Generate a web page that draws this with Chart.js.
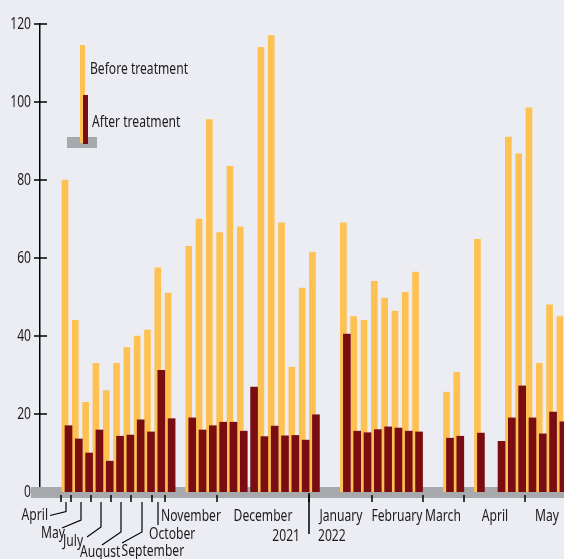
<!DOCTYPE html>
<html>
<head>
<meta charset="utf-8">
<script src="https://cdn.jsdelivr.net/npm/chart.js@4.4.1/dist/chart.umd.min.js"></script>
<style>
    html, body { margin: 0; padding: 0; background: #ecedf3; overflow: hidden; }
    #wrap { width: 564px; height: 559px; overflow: hidden; }
    canvas { display: block; }
</style>
</head>
<body>
<div id="wrap"><canvas id="treatmentChart" width="600" height="559"></canvas></div>
<script>
// one entry per sample slot, null = no sample
const beforeTreatment = [
    80, 44, 23, 33, 26, 33, 37, 40, 41.5, 57.5, 51, null,
    63, 70, 95.5, 66.5, 83.5, 68, null, 114, 117, 69, 32, 52.3, 61.5,
    null, null, 69, 45, 44, 54, 49.7, 46.4, 51.2, 56.4,
    null, null, 25.6, 30.7, null, 64.8, null, null, 91, 86.7, 98.5, 33, 48, 45
];
const afterTreatment = [
    17, 13.6, 10, 15.9, 7.9, 14.3, 14.6, 18.5, 15.4, 31.2, 18.8, null,
    19, 15.9, 17, 17.9, 17.9, 15.6, 26.9, 14.2, 16.9, 14.4, 14.5, 13.3, 19.8,
    null, null, 40.5, 15.6, 15.2, 16, 16.7, 16.4, 15.6, 15.4,
    null, null, 13.8, 14.3, null, 15.1, null, 13, 19, 27.2, 19, 14.9, 20.5, 18
];
const yTicks = [0, 20, 40, 60, 80, 100, 120];
// month boundaries, in slot units
const monthBounds = [-0.56, 0.38, 2.32, 4.26, 6.26, 8.27, 9.5, 14.57, 23.53, 29.6, 34.55, 38.53, 44.45, 48.7];
const monthNames = ['April', 'May', 'July', 'August', 'September', 'October', 'November',
    'December', 'January', 'February', 'March', 'April', 'May'];
const yearBreak = 23.53;
const yearLabels = ['2021', '2022'];
const seriesNames = ['Before treatment', 'After treatment'];

const FONT = "'Noto Sans', 'Open Sans', sans-serif";
const TEXT = '#1d1a1b';
const YELLOW = '#fec152';
const MAROON = '#7a0d12';
const GREY = '#a8a9ac';

// leader lines for the crowded months on the left (pixel layout)
const leaders = [
    { bend: 511.5, end: [50, 515.5], tx: 48, ty: 515, align: 'right' },
    { bend: 520, end: [62, 528], tx: 41, ty: 533, align: 'left' },
    { bend: 527, end: [87, 537], tx: 63, ty: 541, align: 'left' },
    { bend: 532, end: [102, 545], tx: 80, ty: 552, align: 'left' },
    { bend: 532, end: [122, 543], tx: 121.5, ty: 551, align: 'left' },
    { bend: 525, end: null, tx: 149, ty: 534, align: 'left' }
];

let squeeze = 0.8;

// condensed looking text
function label(ctx, str, x, y, align) {
    ctx.save();
    ctx.translate(x, y);
    ctx.scale(squeeze, 1);
    ctx.textAlign = align;
    ctx.fillText(str, 0, 0);
    ctx.restore();
}

const decor = {
    id: 'decor',
    beforeDatasetsDraw(chart) {
        const ctx = chart.ctx;
        const yScale = chart.scales.y;
        const y0 = yScale.getPixelForValue(0);
        ctx.save();
        ctx.font = '17px ' + FONT;
        squeeze = 98 / ctx.measureText(seriesNames[0]).width;

        ctx.fillStyle = GREY;
        ctx.fillRect(31, y0 - 5, chart.width, 11);

        ctx.strokeStyle = '#000';
        ctx.lineWidth = 1.5;
        ctx.fillStyle = TEXT;
        ctx.textBaseline = 'middle';
        yTicks.forEach(v => {
            const py = yScale.getPixelForValue(v);
            if (v !== 0) {
                ctx.beginPath();
                ctx.moveTo(34, py);
                ctx.lineTo(47, py);
                ctx.stroke();
            }
            label(ctx, String(v), 31, py, 'right');
        });
        ctx.restore();
    },
    afterDatasetsDraw(chart) {
        const ctx = chart.ctx;
        const x = chart.scales.x;
        const y0 = chart.scales.y.getPixelForValue(0);
        ctx.save();
        ctx.strokeStyle = '#000';
        ctx.lineWidth = 1.5;

        monthBounds.slice(0, -1).forEach(b => {
            const px = Math.round(x.getPixelForValue(b));
            ctx.beginPath();
            ctx.moveTo(px, y0 + 3);
            ctx.lineTo(px, y0 + 10);
            ctx.stroke();
        });
        const yb = Math.round(x.getPixelForValue(yearBreak));
        ctx.beginPath();
        ctx.moveTo(yb, y0 + 1);
        ctx.lineTo(yb, 534);
        ctx.stroke();

        ctx.lineWidth = 1.2;
        ctx.fillStyle = TEXT;
        ctx.font = '17px ' + FONT;
        ctx.textBaseline = 'middle';
        monthNames.forEach((name, i) => {
            const mid = Math.round(x.getPixelForValue((monthBounds[i] + monthBounds[i + 1]) / 2));
            const ld = leaders[i];
            if (ld) {
                ctx.beginPath();
                ctx.moveTo(mid, y0 + 10);
                ctx.lineTo(mid, ld.bend);
                if (ld.end) ctx.lineTo(ld.end[0], ld.end[1]);
                ctx.stroke();
                label(ctx, name, ld.tx, ld.ty, ld.align);
            } else {
                label(ctx, name, mid, 516, 'center');
            }
        });
        label(ctx, yearLabels[0], yb - 9, 536, 'right');
        label(ctx, yearLabels[1], yb + 9, 536, 'left');

        // legend
        ctx.fillStyle = GREY;
        ctx.fillRect(67, 137, 30, 11);
        ctx.fillStyle = YELLOW;
        ctx.fillRect(80, 45, 5, 98);
        ctx.fillStyle = MAROON;
        ctx.fillRect(83, 95, 5, 49);
        ctx.fillStyle = TEXT;
        label(ctx, seriesNames[0], 90, 69, 'left');
        label(ctx, seriesNames[1], 92, 122, 'left');
        ctx.restore();
    }
};

const canvas = document.getElementById('treatmentChart');
new Chart(canvas, {
    type: 'bar',
    data: {
        datasets: [
            {
                label: seriesNames[1],
                data: afterTreatment.map((v, i) => ({ x: i + 0.17, y: v })),
                backgroundColor: MAROON,
                barThickness: 7,
                grouped: false,
                order: 0
            },
            {
                label: seriesNames[0],
                data: beforeTreatment.map((v, i) => ({ x: i - 0.17, y: v })),
                backgroundColor: YELLOW,
                barThickness: 6,
                grouped: false,
                order: 1
            }
        ]
    },
    options: {
        responsive: false,
        animation: false,
        devicePixelRatio: 1,
        layout: { padding: { top: 24, bottom: 67, left: 0, right: 0 } },
        plugins: {
            legend: { display: false },
            tooltip: { enabled: false }
        },
        scales: {
            x: {
                type: 'linear',
                display: false,
                offset: false,
                grid: { offset: false },
                min: -2.594,
                max: 51.72
            },
            y: {
                min: 0,
                max: 120,
                afterFit: function (scale) { scale.width = 40; },
                afterBuildTicks: function (scale) {
                    scale.ticks = yTicks.map(v => ({ value: v }));
                },
                ticks: { display: false },
                grid: { display: false },
                border: { color: '#000', width: 1.5 }
            }
        }
    },
    plugins: [decor]
});
</script>
</body>
</html>
